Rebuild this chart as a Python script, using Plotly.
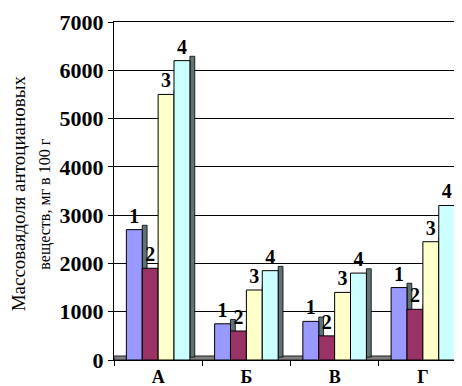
import plotly.graph_objects as go

categories = ["А", "Б", "В", "Г"]
series_names = ["1", "2", "3", "4"]
s1 = [2700, 750, 800, 1500]
s2 = [1900, 600, 500, 1050]
s3 = [5500, 1450, 1400, 2450]
s4 = [6200, 1850, 1800, 3200]
y_ticks = [0, 1000, 2000, 3000, 4000, 5000, 6000, 7000]

values = [s1, s2, s3, s4]
colors = ["#9999FF", "#993366", "#FFFFCC", "#CCFFFF"]
side_color = "#5F7373"
font_family = "'Liberation Serif', 'DejaVu Serif', serif"

xs = list(range(len(categories)))
bw = 0.18
offsets = [-0.36, -0.18, 0.0, 0.18]
depth = 0.055

fig = go.Figure()
for i, vals in enumerate(values):
    # side face (3D depth imitation)
    fig.add_trace(go.Bar(
        x=xs, y=[v + 30 for v in vals], base=60, width=depth, offset=offsets[i] + bw,
        marker=dict(color=side_color, line=dict(color="black", width=0.8)),
        showlegend=False, hoverinfo="skip"))
    fig.add_trace(go.Bar(
        x=xs, y=vals, width=bw, offset=offsets[i], name=series_names[i],
        marker=dict(color=colors[i], line=dict(color="black", width=1)),
        text=[series_names[i]] * len(vals), textposition="outside",
        textfont=dict(family=font_family, size=20, color="black", weight="bold"),
        cliponaxis=False, showlegend=False))

fig.update_layout(
    barmode="overlay",
    width=462, height=386,
    margin=dict(l=106, r=2, t=8, b=34),
    plot_bgcolor="white", paper_bgcolor="white",
    font=dict(family=font_family, color="black"),
    xaxis=dict(
        range=[-0.5, 3.5], tickmode="array", tickvals=xs, ticktext=categories,
        ticks="", showgrid=False, zeroline=False, ticklabelstandoff=0,
        tickfont=dict(family=font_family, size=18, color="black", weight="bold"),
        showline=True, linecolor="black", linewidth=1, mirror=True,
        minor=dict(tickvals=[-0.5, 0.5, 1.5, 2.5, 3.5], ticks="outside", ticklen=5,
                   tickcolor="black", showgrid=False),
    ),
    yaxis=dict(
        range=[0, 7000], tickmode="array", tickvals=y_ticks,
        ticks="outside", ticklen=5, tickcolor="black", ticklabeloverflow="allow",
        showgrid=True, gridcolor="black", gridwidth=1, zeroline=False,
        tickfont=dict(family=font_family, size=22, color="black", weight="bold"),
        showline=True, linecolor="black", linewidth=1, mirror=True,
    ),
    shapes=[dict(type="rect", xref="paper", yref="paper", x0=0, x1=1, y0=0, y1=0.012,
                 fillcolor="#808080", line=dict(color="black", width=0.8), layer="below")],
    annotations=[
        dict(text="Массоваядоля антоциановых", textangle=-90, xref="paper", yref="paper",
             x=-0.271, y=0.494, xanchor="center", yanchor="middle", showarrow=False,
             font=dict(family=font_family, size=19, color="black")),
        dict(text="веществ, мг в 100 г", textangle=-90, xref="paper", yref="paper",
             x=-0.198, y=0.46, xanchor="center", yanchor="middle", showarrow=False,
             font=dict(family=font_family, size=16, color="black")),
    ],
)

fig.write_html("out.html")
